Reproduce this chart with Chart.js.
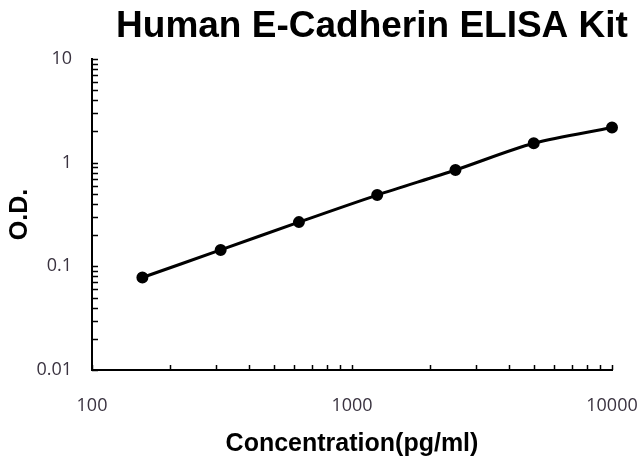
<!DOCTYPE html>
<html>
<head>
<meta charset="utf-8">
<script src="https://cdn.jsdelivr.net/npm/chart.js@4/dist/chart.umd.min.js"></script>
<style>
  html, body { margin: 0; padding: 0; background: #fff; }
  #wrap { width: 640px; height: 459px; }
</style>
</head>
<body>
<div id="wrap"><canvas id="elisaChart" width="640" height="459"></canvas></div>
<script>
// Standard curve
const chartTitle = 'Human E-Cadherin ELISA Kit';
const concentrations = [156.25, 312.5, 625, 1250, 2500, 5000, 10000];
const odValues = [0.078, 0.144, 0.267, 0.487, 0.85, 1.54, 2.18];
const xTickValues = [100, 1000, 10000];
const yTickValues = [0.01, 0.1, 1, 10];

const isDecade = v => Math.abs(Math.log10(v) - Math.round(Math.log10(v))) < 1e-6;
const fmt = v => v >= 1 ? v.toFixed(0) : v.toPrecision(1);

// little inward tick marks at 1..9 x 10^n, like the original
const innerTicks = {
    id: 'innerTicks',
    afterDraw(chart) {
        const { ctx, scales: { x, y } } = chart;
        ctx.save();
        ctx.strokeStyle = '#000';
        ctx.lineWidth = 1.5;
        ctx.beginPath();
        for (let e = Math.log10(x.min); e < Math.log10(x.max); e++) {
            for (let m = 1; m <= 10; m++) {
                const px = Math.round(x.getPixelForValue(m * Math.pow(10, e))) + 0.5;
                ctx.moveTo(px, y.bottom);
                ctx.lineTo(px, y.bottom - 5);
            }
        }
        for (let e = Math.log10(y.min); e < Math.log10(y.max); e++) {
            for (let m = 1; m <= 10; m++) {
                const py = Math.round(y.getPixelForValue(m * Math.pow(10, e))) + 0.5;
                ctx.moveTo(x.left, py);
                ctx.lineTo(x.left + 6, py);
            }
        }
        ctx.stroke();

        ctx.fillStyle = '#000';
        ctx.font = 'bold 37px "Liberation Sans", Arial, sans-serif';
        ctx.textAlign = 'center';
        ctx.textBaseline = 'middle';
        ctx.fillText(chartTitle, 372, 27);
        ctx.restore();
    }
};

const ctx = document.getElementById('elisaChart').getContext('2d');
const elisaChart = new Chart(ctx, {
    type: 'line',
    data: {
        datasets: [{
            label: 'O.D.',
            data: concentrations.map((c, i) => ({ x: c, y: odValues[i] })),
            borderColor: '#000',
            backgroundColor: '#000',
            borderWidth: 3,
            pointRadius: 4.5,
            pointBackgroundColor: '#000',
            pointBorderColor: '#000',
            tension: 0.3,
            clip: false
        }]
    },
    options: {
        responsive: false,
        animation: false,
        layout: { padding: { top: 59, right: 28, bottom: 0, left: 0 } },
        plugins: {
            legend: { display: false },
            tooltip: { enabled: false }
        },
        scales: {
            x: {
                type: 'logarithmic',
                min: 100,
                max: 10000,
                grid: { display: false, drawTicks: false },
                border: { display: true, color: '#000', width: 2 },
                afterBuildTicks: s => { s.ticks = xTickValues.map(v => ({ value: v })); },
                ticks: {
                    autoSkip: false,
                    maxRotation: 0,
                    padding: 25,
                    color: '#3a3340',
                    font: { family: '"Open Sans", "Liberation Sans", sans-serif', size: 18 },
                    callback: v => isDecade(v) ? fmt(v) : ''
                },
                title: {
                    display: true,
                    text: 'Concentration(pg/ml)',
                    color: '#000',
                    padding: { top: 0, bottom: 0 },
                    font: { family: '"Liberation Sans", Arial, sans-serif', size: 25, weight: 'bold' }
                },
                afterFit: s => { s.height = 89; s.paddingLeft = 0; s.paddingRight = 0; }
            },
            y: {
                type: 'logarithmic',
                min: 0.01,
                max: 10,
                grid: { display: false, drawTicks: false },
                border: { display: true, color: '#000', width: 2 },
                afterBuildTicks: s => { s.ticks = yTickValues.map(v => ({ value: v })); },
                ticks: {
                    autoSkip: false,
                    padding: 20,
                    color: '#3a3340',
                    font: { family: '"Open Sans", "Liberation Sans", sans-serif', size: 18 },
                    callback: v => isDecade(v) ? fmt(v) : ''
                },
                title: {
                    display: true,
                    text: 'O.D.',
                    color: '#000',
                    padding: { top: 5, bottom: 0 },
                    font: { family: '"Liberation Sans", Arial, sans-serif', size: 25, weight: 'bold' }
                },
                afterFit: s => { s.width = 92; s.paddingTop = 0; s.paddingBottom = 0; }
            }
        }
    },
    plugins: [innerTicks]
});
</script>
</body>
</html>
